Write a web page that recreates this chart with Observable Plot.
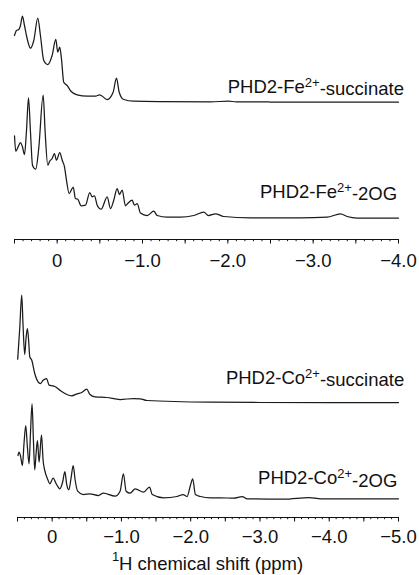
<!DOCTYPE html>
<html><head><meta charset="utf-8">
<script src="https://cdn.jsdelivr.net/npm/d3@7"></script>
<script src="https://cdn.jsdelivr.net/npm/@observablehq/plot@0.6"></script>
<style>
body{margin:0;background:#fff;}
#chart{width:419px;}
#chart svg{display:block;}
</style></head><body><div id="chart"></div>
<script>
// ---- Data (ppm, intensity above each trace's baseline, arbitrary units) ----
const feSuccPpm = [0.500,0.477,0.450,0.430,0.407,0.383,0.352,0.313,0.274,0.227,0.196,0.157,0.110,0.059,0.016,-0.007,-0.030,-0.050,-0.077,-0.117,-0.164,-0.234,-0.352,-0.449,-0.499,-0.586,-0.656,-0.695,-0.727,-0.780,-0.898,-1.246,-1.797,-2.007,-2.10,-2.50,-3.00,-3.50,-4.00];
const feSuccInt = [66.5,71.5,72.5,76.5,85.8,76.5,63.5,53.8,61.5,83.8,66.5,41.5,37.5,46.5,62.5,49.8,54.8,43.5,19.8,16.5,10.5,7.2,5.8,5.8,7.2,2.5,9.8,23.8,9.8,2.5,0.8,0.4,0.2,0.8,0.2,0,0,0,0];

const fe2ogPpm = [0.500,0.485,0.462,0.430,0.407,0.383,0.360,0.336,0.313,0.289,0.251,0.216,0.164,0.141,0.110,0.087,0.059,0.032,0.008,-0.030,-0.059,-0.086,-0.109,-0.141,-0.188,-0.214,-0.241,-0.281,-0.332,-0.382,-0.410,-0.437,-0.469,-0.516,-0.586,-0.625,-0.663,-0.703,-0.730,-0.762,-0.800,-0.827,-0.879,-0.906,-0.938,-0.976,-1.055,-1.132,-1.172,-1.289,-1.445,-1.601,-1.718,-1.773,-1.855,-1.952,-2.265,-2.851,-3.164,-3.320,-3.398,-3.516,-4.000];
const fe2ogInt = [82.2,66.8,70.2,75.5,71.2,63.5,86.5,120.2,86.5,52.8,48.8,69.5,122.8,86.2,52.8,56.8,59.5,64.5,57.8,65.5,57.8,51.2,37.8,24.5,30.8,19.5,18.8,12.2,12.8,25.5,21.2,22.2,12.8,8.8,21.2,9.5,17.8,29.5,23.5,27.8,12.2,14.5,17.8,12.8,14.5,5.0,2.5,6.8,2.5,0.8,0.8,2.5,5.8,2.5,4.2,1.5,0.2,0.2,0.8,4.2,1.5,0,0];

const coSuccPpm = [0.497,0.468,0.439,0.420,0.396,0.377,0.357,0.338,0.323,0.294,0.251,0.203,0.168,0.130,0.081,0.043,-0.006,-0.039,-0.112,-0.184,-0.281,-0.362,-0.426,-0.499,-0.546,-0.619,-0.788,-0.981,-1.174,-1.271,-1.368,-2.286,-3.000,-4.000,-5.000];
const coSuccInt = [43.3,74,107.3,77.3,48,64,74,60.7,45.7,42.3,29,20.7,19,22.3,24,17.3,16.7,16,12.3,9,6.7,8.7,10,13.3,8,5.7,5,3,4,3.7,2,0.3,0,0,0];

const co2ogPpm = [0.493,0.478,0.458,0.429,0.406,0.381,0.357,0.333,0.313,0.290,0.270,0.251,0.232,0.212,0.188,0.154,0.130,0.106,0.067,0.033,-0.014,-0.064,-0.112,-0.151,-0.184,-0.209,-0.242,-0.275,-0.304,-0.333,-0.368,-0.449,-0.546,-0.667,-0.739,-0.909,-0.981,-1.029,-1.068,-1.126,-1.199,-1.319,-1.406,-1.445,-1.609,-1.803,-1.890,-1.948,-1.996,-2.029,-2.068,-2.141,-2.286,-2.430,-2.623,-2.745,-2.817,-3.348,-3.710,-3.880,-5.000];
const co2ogInt = [43.3,46.6,43.3,33.3,55.3,73.3,51.6,35,65,95,58.3,29,45,58.3,36.6,64,38.3,28.3,20,15,20.6,14.3,10,16.6,27.3,15,9,21.6,33.3,18.3,7.6,4.3,5,3.3,5.6,2.6,7.6,25,7.6,5.6,10,6.6,11.6,4.3,1,2.3,4.3,2.3,13.3,20,4.3,2.3,1,1,0.6,2.3,0,-0.4,1.3,0,0];

// stacking offsets (baseline of each trace in its panel)
const stackOffsets = [137.5, 21.5, 115, 18.7];

// labels
const labelMetals = ["Fe", "Fe", "Co", "Co"];
const labelLigands = ["succinate", "2OG", "succinate", "2OG"];
const labelCharge = "2+";

// axis ticks
const topTickLabels = [0, -1, -2, -3, -4];
const bottomTickLabels = [0, -1, -2, -3, -4, -5];
const axisTitle = "H chemical shift (ppm)";
const axisTitleSup = "1";

const FONT = "'Liberation Sans', Arial, Helvetica, sans-serif";
const FS = 18.5, FS_SUP = 13;
const fmt = d => d === 0 ? "0" : d3.format(".1f")(d);

function rows(ppm, val, i) {
  return ppm.map((p, k) => ({ppm: p, v: val[k] + stackOffsets[i], trace: i}));
}

function panel({data, xDomain, yTop, height, mLeft, mBottom, labels, tickLabels, labelPad}) {
  const minor = d3.range(Math.round(xDomain[0]*10), Math.round(xDomain[1]*10) - 1, -1).map(d => d/10);
  const major = d3.range(Math.round(xDomain[0]*2), Math.round(xDomain[1]*2) - 1, -1).map(d => d/2);
  const plot = Plot.plot({
    width: 419, height,
    marginTop: 0, marginBottom: mBottom, marginLeft: mLeft, marginRight: 21,
    x: {domain: xDomain, label: null},
    y: {domain: [0, yTop], axis: null},
    style: {fontFamily: FONT, fontSize: FS + "px", color: "#111", background: "white", overflow: "visible"},
    marks: [
      Plot.ruleY([0], {stroke: "#111", strokeWidth: 1}),
      Plot.axisX({ticks: minor, tickSize: 2.2, fill: "none", label: null, stroke: "#111"}),
      Plot.axisX({ticks: major, tickSize: 4.5, fill: "none", label: null, stroke: "#111"}),
      Plot.axisX({ticks: tickLabels, tickSize: 0, tickPadding: labelPad, tickFormat: fmt, label: null, fill: "#111", fontSize: FS}),
      Plot.line(data, {x: "ppm", y: "v", z: "trace", stroke: "#1b1b1b", strokeWidth: 1.25, curve: "monotone-x"})
    ]
  });
  const sx = plot.scale("x"), sy = plot.scale("y");
  const svg = d3.select(plot);
  for (const L of labels) {
    const t = svg.append("text")
      .attr("x", sx.apply(L.ppm))
      .attr("y", sy.apply(stackOffsets[L.i] + L.h))
      .attr("text-anchor", "end")
      .attr("font-family", FONT).attr("font-size", FS).attr("fill", "#111");
    t.append("tspan").text("PHD2-" + labelMetals[L.i]);
    t.append("tspan").attr("font-size", FS_SUP).attr("dy", "-0.45em").text(labelCharge);
    t.append("tspan").attr("dy", "0.45em").text("-" + labelLigands[L.i]);
  }
  return {plot, sx, sy, svg};
}

const topPanel = panel({
  data: [...rows(feSuccPpm, feSuccInt, 0), ...rows(fe2ogPpm, fe2ogInt, 1)],
  xDomain: [0.5, -4.0], yTop: 239, height: 275, mLeft: 14, mBottom: 36,
  labels: [{i: 0, ppm: -4.07, h: 8.5}, {i: 1, ppm: -3.99, h: 19.5}],
  tickLabels: topTickLabels, labelPad: 14
});
const bottomPanel = panel({
  data: [...rows(coSuccPpm, coSuccInt, 2), ...rows(co2ogPpm, co2ogInt, 3)],
  xDomain: [0.5, -5.0], yTop: 242, height: 300, mLeft: 17, mBottom: 58,
  labels: [{i: 2, ppm: -5.09, h: 18}, {i: 3, ppm: -4.99, h: 14}],
  tickLabels: bottomTickLabels, labelPad: 12
});

// axis title
{
  const r = bottomPanel.sx.range;
  const t = bottomPanel.svg.append("text")
    .attr("x", (r[0] + r[1]) / 2).attr("y", 292)
    .attr("text-anchor", "middle")
    .attr("font-family", FONT).attr("font-size", FS).attr("fill", "#111");
  t.append("tspan").attr("font-size", FS_SUP).attr("dy", "-0.5em").text(axisTitleSup);
  t.append("tspan").attr("dy", "0.5em").text(axisTitle);
}

const chart = document.getElementById("chart");
chart.append(topPanel.plot);
chart.append(bottomPanel.plot);
</script>
</body></html>
